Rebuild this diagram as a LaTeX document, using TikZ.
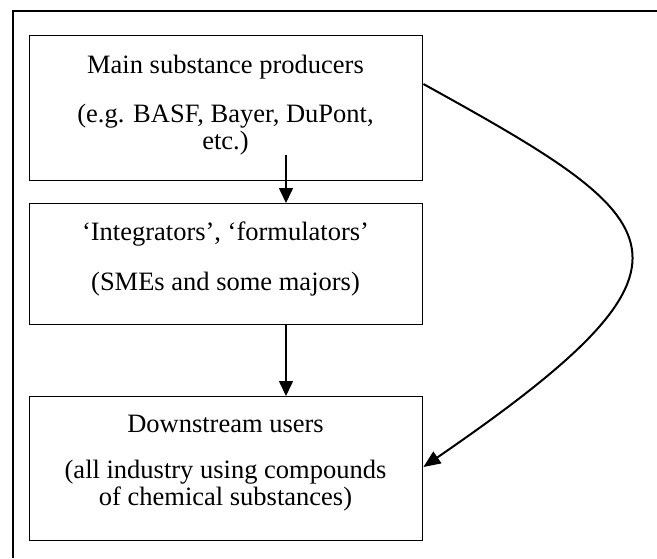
\documentclass[tikz,border=0pt]{standalone}
\usepackage{fontspec}
\setmainfont{Liberation Serif}
\usetikzlibrary{arrows.meta}
\begin{document}
\begin{tikzpicture}[x=1pt,y=-1pt,
  box/.style={draw=black,line width=1.4pt,inner sep=0pt,minimum width=393pt,anchor=north west},
  txt/.style={anchor=base,inner sep=0pt,font=\fontsize{26.5}{27}\selectfont},
  arr/.style={line width=1.6pt,-{Triangle[length=15pt,width=14pt]}},
  carr/.style={line width=2pt,-{Triangle[length=17pt,width=14pt]}},
  frame/.style={line width=1.5pt}]
\useasboundingbox (0,0) rectangle (657,558);
% outer frame (partly visible)
\draw[frame] (13,558) -- (13,11) -- (657,11);
% boxes
\node[box,minimum height=145pt] (b1) at (29,35) {};
\node[box,minimum height=121pt] (b2) at (29,203) {};
\node[box,minimum height=144pt] (b3) at (29,396) {};
% texts
\node[txt] (t11) at (225.5,73) {Main substance producers};
\node[txt] (t12) at (225.5,122) {(e.g. BASF, Bayer, DuPont,};
\node[txt] (t13) at (225.5,149) {etc.)};
\node[txt] (t21) at (225.5,240) {‘Integrators’, ‘formulators’};
\node[txt] (t22) at (225.5,290) {(SMEs and some majors)};
\node[txt] (t31) at (225.5,432) {Downstream users};
\node[txt] (t32) at (225.5,478) {(all industry using compounds};
\node[txt] (t33) at (225.5,505) {of chemical substances)};
% connectors
\coordinate (s1) at (286,155);
\coordinate (s2) at (286,324);
\draw[arr] (s1) -- (s1 |- b2.north);
\draw[arr] (s2 |- b2.south) -- (s2 |- b3.north);
\coordinate (c0) at (422,84);
\coordinate (c3) at (423,467);
\draw[carr] (b1.east |- c0) .. controls (673,222) and (725,260) .. (b3.east |- c3);
\end{tikzpicture}
\end{document}
